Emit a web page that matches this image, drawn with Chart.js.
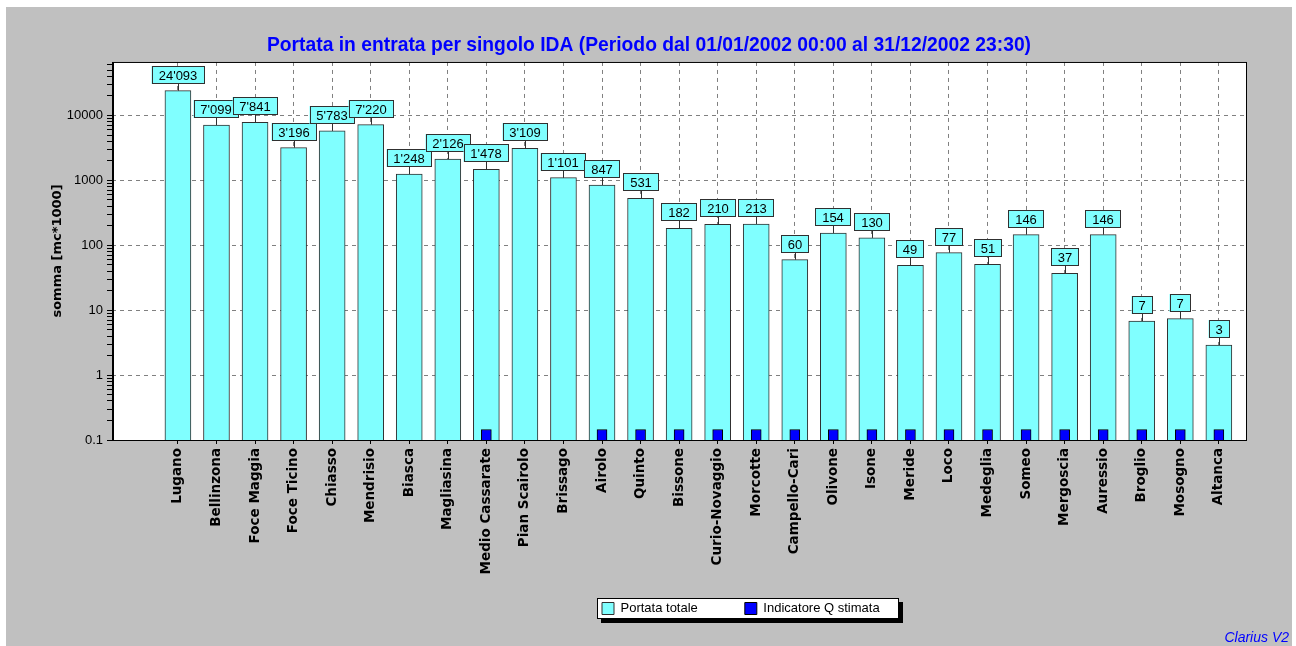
<!DOCTYPE html>
<html>
<head>
<meta charset="utf-8">
<script src="https://cdn.jsdelivr.net/npm/chart.js@4.4.0/dist/chart.umd.min.js"></script>
<style>
html, body { margin: 0; padding: 0; background: #fff; }
canvas { display: block; }
</style>
</head>
<body>
<canvas id="ida-chart" width="1296" height="646"></canvas>
<script>
const stations = ['Lugano', 'Bellinzona', 'Foce Maggia', 'Foce Ticino', 'Chiasso', 'Mendrisio', 'Biasca',
    'Magliasina', 'Medio Cassarate', 'Pian Scairolo', 'Brissago', 'Airolo', 'Quinto', 'Bissone',
    'Curio-Novaggio', 'Morcotte', 'Campello-Cari', 'Olivone', 'Isone', 'Meride', 'Loco', 'Medeglia',
    'Someo', 'Mergoscia', 'Auressio', 'Broglio', 'Mosogno', 'Altanca'];
const portataTotale = [24093, 7099, 7841, 3196, 5783, 7220, 1248, 2126, 1478, 3109, 1101, 847, 531, 182,
    210, 213, 60, 154, 130, 49, 77, 51, 146, 37, 146, 6.8, 7.4, 2.9];
// 1 = the station carries the "Q stimata" flag
const qStimata = [0, 0, 0, 0, 0, 0, 0, 0, 1, 0, 0, 1, 1, 1, 1, 1, 1, 1, 1, 1, 1, 1, 1, 1, 1, 1, 1, 1];
const yTicks = [0.1, 1, 10, 100, 1000, 10000];

const MARKER_LEVEL = 0.145;
const LEGEND_X = 602;
const TITLE_CX = 649;
const FONT = "'Liberation Sans', Arial, sans-serif";
const WIDE = "'DejaVu Sans', Verdana, sans-serif";

Chart.defaults.font.family = FONT;
Chart.defaults.font.size = 13;
Chart.defaults.color = '#000';

function fmt(v) {
    return String(Math.round(v)).replace(/\B(?=(\d{3})+(?!\d))/g, "'");
}

const decor = {
    id: 'decor',
    afterLayout(chart) {
        // move the legend so it sits where the original one is
        const lg = chart.legend;
        const pad = lg.options.labels.padding;
        const startX = (lg.left + pad + lg.right - lg.lineWidths[0]) / 2;
        const shift = LEGEND_X - startX;
        lg.left += shift;
        lg.right += shift;
        // title is centred on the whole frame, not on the plot
        const tb = chart.titleBlock;
        const tShift = TITLE_CX - (tb.left + tb.right) / 2;
        tb.left += tShift;
        tb.right += tShift;
        // let the long station names run past the axis box (labels are clipped to it)
        chart.scales.x.bottom = chart.height;
    },
    beforeDraw(chart) {
        const { ctx, chartArea: a } = chart;
        ctx.save();
        ctx.fillStyle = '#fff';
        ctx.fillRect(0, 0, chart.width, chart.height);
        ctx.fillStyle = '#c0c0c0';
        ctx.fillRect(6, 7, chart.width - 10, chart.height - 7);
        ctx.fillStyle = '#fff';
        ctx.fillRect(a.left, a.top, a.right - a.left, a.bottom - a.top);

        const hb = chart.legend.legendHitBoxes;
        if (hb && hb.length) {
            const first = hb[0], last = hb[hb.length - 1];
            const x0 = Math.round(first.left - 5);
            const x1 = Math.round(last.left + last.width + 19);
            const y0 = Math.round(first.top + first.height / 2 - 11);
            ctx.fillStyle = '#000';
            ctx.fillRect(x0 + 4, y0 + 4, x1 - x0, 21);
            ctx.fillStyle = '#fff';
            ctx.fillRect(x0, y0, x1 - x0, 21);
            ctx.strokeStyle = '#000';
            ctx.lineWidth = 1;
            ctx.strokeRect(x0 + 0.5, y0 + 0.5, x1 - x0 - 1, 20);
        }
        ctx.restore();
    },
    afterDatasetsDraw(chart) {
        const ctx = chart.ctx;
        const meta = chart.getDatasetMeta(0);
        ctx.save();
        ctx.font = '13px ' + FONT;
        ctx.textAlign = 'center';
        ctx.textBaseline = 'middle';
        meta.data.forEach((bar, i) => {
            const txt = fmt(portataTotale[i]);
            const w = Math.round(ctx.measureText(txt).width) + 14;
            const h = 18;
            const x = Math.round(bar.x);
            const yb = Math.round(bar.y) - 7;
            ctx.strokeStyle = '#303030';
            ctx.lineWidth = 1;
            ctx.beginPath();
            ctx.moveTo(x + 0.5, bar.y);
            ctx.lineTo(x + 0.5, yb);
            ctx.stroke();
            ctx.fillStyle = '#80ffff';
            ctx.fillRect(x - w / 2, yb - h, w, h);
            ctx.strokeRect(Math.round(x - w / 2) + 0.5, yb - h + 0.5, w - 1, h - 1);
            ctx.fillStyle = '#000';
            ctx.fillText(txt, x, yb - h / 2 + 1);
        });
        ctx.restore();
    },
    afterDraw(chart) {
        const { ctx, chartArea: a } = chart;
        ctx.save();
        ctx.strokeStyle = '#000';
        ctx.lineWidth = 1;
        ctx.strokeRect(a.left + 0.5, a.top + 0.5, a.right - a.left - 1, a.bottom - a.top);
        ctx.lineWidth = 2;
        ctx.beginPath();
        ctx.moveTo(a.left + 1, a.top);
        ctx.lineTo(a.left + 1, a.bottom + 1);
        ctx.stroke();
        ctx.font = 'italic 14px ' + FONT;
        ctx.fillStyle = '#0000ff';
        ctx.textAlign = 'right';
        ctx.textBaseline = 'alphabetic';
        ctx.fillText('Clarius V2', 1289, 642);
        ctx.restore();
    }
};

const ctx = document.getElementById('ida-chart').getContext('2d');

const idaChart = new Chart(ctx, {
    type: 'bar',
    data: {
        datasets: [{
            label: 'Portata totale',
            data: portataTotale.map((v, i) => ({ x: i, y: v })),
            backgroundColor: '#80ffff',
            borderColor: '#303030',
            borderWidth: 1,
            barThickness: 26,
            grouped: false,
            order: 1
        }, {
            label: 'Indicatore Q stimata',
            data: qStimata.map((f, i) => ({ x: i, y: f ? MARKER_LEVEL : null })),
            backgroundColor: '#0000ff',
            borderColor: '#000',
            borderWidth: 1,
            barThickness: 10,
            grouped: false,
            order: 0
        }]
    },
    options: {
        responsive: false,
        animation: false,
        layout: { padding: { top: 7, left: 6, right: 49, bottom: 21 } },
        plugins: {
            title: {
                display: true,
                text: 'Portata in entrata per singolo IDA (Periodo dal 01/01/2002 00:00 al 31/12/2002 23:30)',
                color: '#0000ff',
                font: { size: 19.3, weight: 'bold' },
                padding: { top: 26.6, bottom: 5.2 }
            },
            legend: {
                position: 'bottom',
                labels: {
                    boxWidth: 12,
                    boxHeight: 12,
                    padding: 47,
                    font: { size: 13 },
                    sort: (a, b) => a.datasetIndex - b.datasetIndex
                }
            },
            tooltip: { enabled: false }
        },
        scales: {
            x: {
                type: 'linear',
                min: -1.71,
                max: 27.73,
                offset: false,
                afterBuildTicks: (scale) => {
                    scale.ticks = stations.map((_, i) => ({ value: i }));
                },
                afterFit: (scale) => {
                    scale.height = scale.chart.height - 21 - scale.chart.legend.height - 440;
                },
                ticks: {
                    autoSkip: false,
                    maxRotation: 90,
                    minRotation: 90,
                    padding: 4,
                    font: { family: WIDE, size: 13.5, weight: 'bold' },
                    callback: (v) => stations[v] ?? ''
                },
                grid: {
                    offset: false,
                    color: '#808080',
                    tickColor: '#000',
                    tickLength: 4
                },
                border: { display: false, dash: [4, 4] }
            },
            y: {
                type: 'logarithmic',
                min: 0.1,
                max: 66800,
                afterBuildTicks: (scale) => {
                    const t = [];
                    for (let e = -1; e <= 4; e++) {
                        for (let m = 1; m <= 9; m++) {
                            const v = +(m * Math.pow(10, e)).toPrecision(3);
                            if (v <= scale.max) t.push({ value: v, major: m === 1 });
                        }
                    }
                    scale.ticks = t;
                },
                afterFit: (scale) => { scale.width = 106; },
                ticks: {
                    autoSkip: false,
                    padding: 4,
                    font: { size: 13 },
                    callback: (v) => yTicks.includes(v) ? String(v) : ''
                },
                grid: {
                    color: (c) => (c.tick && yTicks.includes(c.tick.value)) ? '#808080' : 'rgba(0,0,0,0)',
                    tickColor: '#000',
                    tickLength: 5
                },
                border: { display: false, dash: [4, 4] },
                title: {
                    display: true,
                    text: 'somma [mc*1000]',
                    font: { family: WIDE, size: 13, weight: 'bold' },
                    padding: { top: 44, bottom: 0 }
                }
            }
        }
    },
    plugins: [decor]
});
</script>
</body>
</html>
